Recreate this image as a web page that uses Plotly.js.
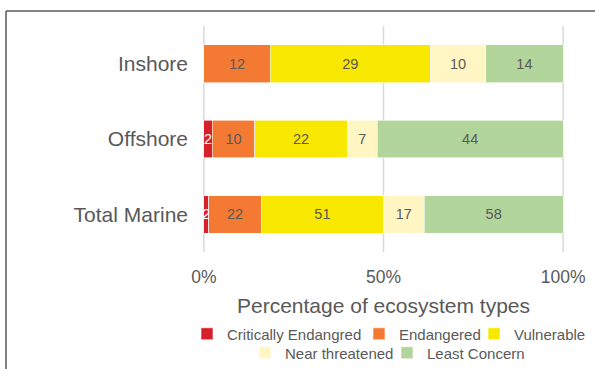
<!DOCTYPE html>
<html>
<head>
<meta charset="utf-8">
<script src="https://cdn.plot.ly/plotly-3.0.1.min.js"></script>
<style>html,body{margin:0;padding:0;background:#fff;}#chart{width:595px;height:369px;}</style>
</head>
<body>
<div id="chart"></div>
<script>
var categories = ['Inshore', 'Offshore', 'Total Marine'];
var seriesNames = ['Critically Endangred', 'Endangered', 'Vulnerable', 'Near threatened', 'Least Concern'];
var criticallyEndangered = [0, 2, 2];
var endangered = [12, 10, 22];
var vulnerable = [29, 22, 51];
var nearThreatened = [10, 7, 17];
var leastConcern = [14, 44, 58];
var tickValues = [0, 50, 100];
var tickLabels = ['0%', '50%', '100%'];

var colors = ['#D7202A', '#F47A33', '#F8E800', '#FFF6C4', '#B2D59C'];
var textColors = ['#FFFFFF', '#595959', '#595959', '#595959', '#595959'];
var allSeries = [criticallyEndangered, endangered, vulnerable, nearThreatened, leastConcern];
var legendIds = ['legend', 'legend', 'legend', 'legend2', 'legend2'];
var legendWidths = [127, 70, 72, 97, 98];

var grey = '#595959';
var baseFont = 'Liberation Sans, Arial, sans-serif';
var narrowFont = 'Liberation Sans Narrow, Arial Narrow, Liberation Sans, sans-serif';

var traces = allSeries.map(function (vals, i) {
  return {
    type: 'bar',
    orientation: 'h',
    name: seriesNames[i],
    y: categories,
    x: vals,
    text: vals.map(function (v) { return v > 0 ? String(v) : ''; }),
    textposition: 'inside',
    insidetextanchor: 'middle',
    textangle: 0,
    textfont: {family: narrowFont, size: 14.5, color: textColors[i]},
    marker: {color: colors[i], line: {color: '#FFFFFF', width: 0.6}},
    legend: legendIds[i],
    legendwidth: legendWidths[i],
    hoverinfo: 'skip'
  };
});

var L = 203, R = 31, T = 26, B = 117;
var pw = 595 - L - R, ph = 369 - T - B;
function px2x(p) { return (p - L) / pw; }
function py2y(p) { return (369 - B - p) / ph; }

var gridShapes = tickValues.map(function (v) {
  return {type: 'line', xref: 'x', yref: 'paper', x0: v, x1: v, y0: 0, y1: 1, layer: 'below',
          line: {color: '#D9D9D9', width: 1.5}};
});

var layout = {
  width: 595, height: 369,
  margin: {l: L, r: R, t: T, b: B, pad: 0, autoexpand: false},
  paper_bgcolor: '#FFFFFF', plot_bgcolor: '#FFFFFF',
  barmode: 'stack', barnorm: 'percent', bargap: 0.5,
  uniformtext: {mode: 'show', minsize: 14.5},
  font: {family: baseFont, color: grey},
  showlegend: true,
  xaxis: {
    range: [-0.25, 100.25], tickvals: tickValues, ticktext: tickLabels,
    showgrid: false, zeroline: false, showline: false, ticks: '',
    ticklabelstandoff: 12,
    tickfont: {family: baseFont, size: 17.5, color: grey},
    title: {text: 'Percentage of ecosystem types', font: {family: baseFont, size: 21, color: grey}, standoff: 12},
    fixedrange: true
  },
  yaxis: {
    autorange: 'reversed', showgrid: false, zeroline: false, showline: false, ticks: '',
    ticklabelstandoff: 14,
    tickfont: {family: baseFont, size: 21, color: grey},
    fixedrange: true
  },
  legend: {
    orientation: 'h', x: px2x(187), xanchor: 'left', y: py2y(334), yanchor: 'middle',
    font: {family: baseFont, size: 15, color: grey}, traceorder: 'normal',
    bgcolor: 'rgba(0,0,0,0)', itemwidth: 30, tracegroupgap: 0
  },
  legend2: {
    orientation: 'h', x: px2x(245), xanchor: 'left', y: py2y(353), yanchor: 'middle',
    font: {family: baseFont, size: 15, color: grey}, traceorder: 'normal',
    bgcolor: 'rgba(0,0,0,0)', itemwidth: 30, tracegroupgap: 0
  },
  shapes: gridShapes.concat([
    {type: 'line', xref: 'paper', yref: 'paper', x0: px2x(6), x1: px2x(6), y0: py2y(380), y1: py2y(11),
     line: {color: '#595959', width: 1.5}},
    {type: 'line', xref: 'paper', yref: 'paper', x0: px2x(6), x1: px2x(600), y0: py2y(11), y1: py2y(11),
     line: {color: '#595959', width: 1.5}}
  ])
};

Plotly.newPlot('chart', traces, layout, {displayModeBar: false, staticPlot: true});
</script>
</body>
</html>
